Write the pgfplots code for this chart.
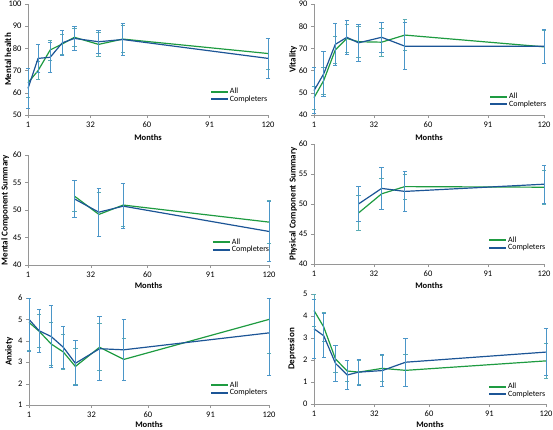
\documentclass[border=0pt]{standalone}
\usepackage{fontspec}
\setmainfont{Carlito}
\usepackage{pgfplots}
\pgfplotsset{compat=1.18}
\definecolor{gAll}{RGB}{30,155,65}
\definecolor{bComp}{RGB}{28,85,150}
\definecolor{eAll}{RGB}{90,172,180}
\definecolor{eComp}{RGB}{75,150,200}
\definecolor{axgray}{RGB}{150,150,150}
\pgfplotsset{
  panel/.style={scale only axis, axis lines=left, axis line style={-,axgray},
    tick style={axgray}, tick align=outside, major tick length=3pt,
    xmin=1, xmax=120, xtick={1,32,60,91,120}, clip=false,
    /pgf/number format/assume math mode=true,
    ticklabel style={font=\fontsize{8.5}{9}\selectfont},
    xlabel style={font=\bfseries\fontsize{8.5}{9}\selectfont},
    ylabel style={font=\bfseries\fontsize{9}{10}\selectfont},
    xlabel={Months},
    legend style={draw=none, fill=none, inner sep=0pt, font=\fontsize{8}{8.5}\selectfont,
      row sep=-1.5pt, nodes={inner sep=1pt}},
    legend cell align=left,
    legend image code/.code={\draw[##1] (0pt,0pt) -- (17pt,0pt);},
  },
  allp/.style={color=gAll, line width=1.2pt, no marks, forget plot,
    error bars/y dir=both, error bars/y explicit,
    error bars/error bar style={eAll, line width=1pt},
    error bars/error mark options={rotate=90, eAll, mark size=2.2pt, line width=0.8pt}},
  compp/.style={color=bComp, line width=1.2pt, no marks, forget plot,
    error bars/y dir=both, error bars/y explicit,
    error bars/error bar style={eComp, line width=1pt},
    error bars/error mark options={rotate=90, eComp, mark size=2.2pt, line width=0.8pt}},
}
\newcommand{\leg}{%
  \addlegendimage{draw=gAll, line width=1.8pt}\addlegendentry{All}
  \addlegendimage{draw=bComp, line width=1.8pt}\addlegendentry{Completers}}
\begin{document}
\begin{tikzpicture}[x=1pt,y=1pt]
\useasboundingbox (0,0) rectangle (553,429);
% Panel 1: Mental health
\begin{axis}[panel, at={(28pt,314pt)}, anchor=south west, width=240pt, height=111pt,
  ymin=50, ymax=100, ytick={50,60,...,100}, ylabel={Mental health},
  ylabel style={at={(axis description cs:-0.083,0.5)}, anchor=center},
  xlabel style={at={(axis description cs:0.5,-0.2)}, anchor=center},
  legend style={at={(axis description cs:0.758,0.176)}, anchor=west}]
\leg
\addplot[allp] table[x=x,y=y,y error=e] {
x y e
1 64.5 6.5
6 70 4
12 79.3 4.5
18 82 4.5
24 85 4.2
36 81.8 5.2
48 84.2 6
120 77.7 7
};
\addplot[compp] table[x=x,y=y,y error=e] {
x y e
1 62 9
6 75.5 6.5
12 76 6.7
18 82.5 5.5
24 84.5 5.2
36 83 5.3
48 84 7.3
120 75.5 9.2
};
\end{axis}
% Panel 2: Vitality
\begin{axis}[panel, at={(314pt,314pt)}, anchor=south west, width=230pt, height=111pt,
  ymin=40, ymax=90, ytick={40,50,...,90}, ylabel={Vitality},
  ylabel style={at={(axis description cs:-0.091,0.5)}, anchor=center},
  xlabel style={at={(axis description cs:0.5,-0.2)}, anchor=center},
  legend style={at={(axis description cs:0.761,0.13)}, anchor=west}]
\leg
\addplot[allp] table[x=x,y=y,y error=e] {
x y e
1 47.8 5.2
6 55.5 6
12 69.3 6
18 74.5 6.5
24 73 7
36 72.8 6.2
48 76 7
120 70.7 7.5
};
\addplot[compp] table[x=x,y=y,y error=e] {
x y e
1 51 10.3
6 58.5 10.3
12 71.8 9.5
18 75 7.5
24 72.5 8.5
36 75 6.8
48 71 10.5
120 71 7.6
};
\end{axis}
% Panel 3: Mental Component Summary
\begin{axis}[panel, at={(28pt,164pt)}, anchor=south west, width=241pt, height=110pt,
  ymin=40, ymax=60, ytick={40,45,...,60}, ylabel={Mental Component Summary},
  ylabel style={at={(axis description cs:-0.095,0.5)}, anchor=center},
  xlabel style={at={(axis description cs:0.5,-0.19)}, anchor=center},
  legend style={at={(axis description cs:0.763,0.173)}, anchor=west}]
\leg
\addplot[allp] table[x=x,y=y,y error=e] {
x y e
24 52.5 2.8
36 49.2 4
48 50.9 3.9
120 47.8 3.9
};
\addplot[compp] table[x=x,y=y,y error=e] {
x y e
24 52 3.3
36 49.6 4.4
48 50.7 4.1
120 46.1 5.5
};
\end{axis}
% Panel 4: Physical Component Summary
\begin{axis}[panel, at={(314pt,165pt)}, anchor=south west, width=230pt, height=120pt,
  ymin=40, ymax=60, ytick={40,45,...,60}, ylabel={Physical Component Summary},
  ylabel style={at={(axis description cs:-0.091,0.5)}, anchor=center},
  xlabel style={at={(axis description cs:0.5,-0.183)}, anchor=center},
  legend style={at={(axis description cs:0.757,0.167)}, anchor=west}]
\leg
\addplot[allp] table[x=x,y=y,y error=e] {
x y e
24 48.5 2.9
36 51.7 2.6
48 52.9 2.1
120 52.8 2.8
};
\addplot[compp] table[x=x,y=y,y error=e] {
x y e
24 50 2.9
36 52.6 3.5
48 52.1 3.4
120 53.3 3.2
};
\end{axis}
% Panel 5: Anxiety (error bars cut at the top of the axis, as in the source)
\begin{axis}[panel, at={(29pt,24pt)}, anchor=south west, width=240pt, height=107pt,
  ymin=1, ymax=6, ytick={1,2,...,6}, ylabel={Anxiety},
  ylabel style={at={(axis description cs:-0.083,0.5)}, anchor=center},
  xlabel style={at={(axis description cs:0.5,-0.187)}, anchor=center},
  legend style={at={(axis description cs:0.754,0.15)}, anchor=west}]
\leg
\addplot[allp] table[x=x,y=y,y error plus=ep,y error minus=em] {
x y ep em
1 4.86 1.14 1.3
6 4.45 0.78 0.78
12 3.85 1.0 1.0
18 3.48 0.82 0.82
24 2.8 0.85 0.85
36 3.7 1.1 1.1
48 3.13 1.0 1.0
120 5.0 1.0 1.6
};
\addplot[compp] table[x=x,y=y,y error plus=ep,y error minus=em] {
x y ep em
1 5.0 1.0 1.5
6 4.47 1.0 1.0
12 4.2 1.45 1.45
18 3.7 0.97 0.97
24 2.95 1.05 1.05
36 3.63 1.5 1.5
48 3.58 1.42 1.42
120 4.37 1.63 2.0
};
\end{axis}
% Panel 6: Depression
\begin{axis}[panel, at={(314pt,25pt)}, anchor=south west, width=232pt, height=110pt,
  ymin=0, ymax=5, ytick={0,1,...,5}, ylabel={Depression},
  ylabel style={at={(axis description cs:-0.095,0.5)}, anchor=center},
  xlabel style={at={(axis description cs:0.5,-0.19)}, anchor=center},
  legend style={at={(axis description cs:0.75,0.123)}, anchor=west}]
\leg
\addplot[allp] table[x=x,y=y,y error=e] {
x y e
1 4.25 0.72
6 3.5 0.65
12 2.05 0.6
18 1.5 0.48
24 1.45 0.55
36 1.62 0.6
48 1.53 0.72
120 1.96 0.78
};
\addplot[compp] table[x=x,y=y,y error=e] {
x y e
1 3.42 1.35
6 3.1 1.0
12 1.85 0.82
18 1.32 0.65
24 1.45 0.6
36 1.52 0.72
48 1.9 1.1
120 2.36 1.07
};
\end{axis}
\end{tikzpicture}
\end{document}
